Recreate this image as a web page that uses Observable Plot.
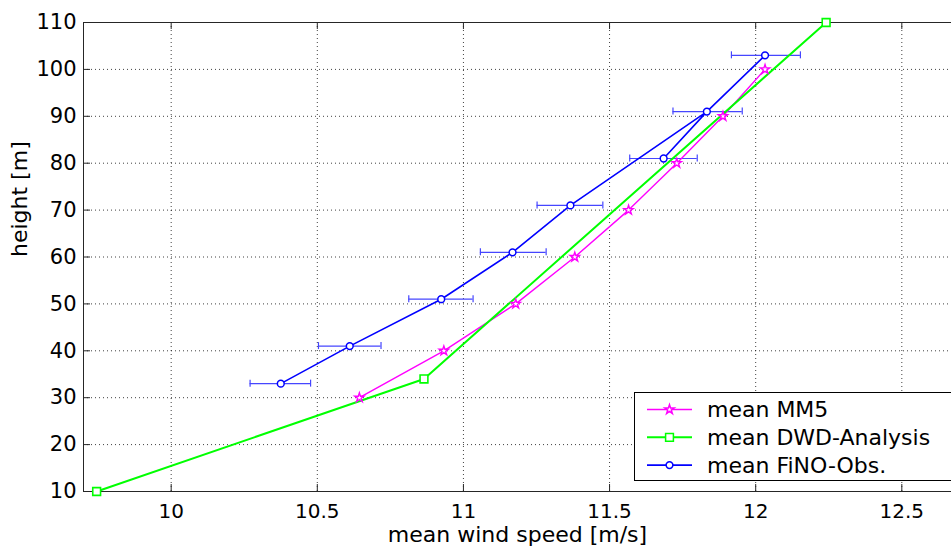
<!DOCTYPE html>
<html><head><meta charset="utf-8">
<script src="https://cdn.jsdelivr.net/npm/d3@7"></script>
<script src="https://cdn.jsdelivr.net/npm/@observablehq/plot@0.6"></script>
<style>
body{margin:0;background:#fff;}
#wrap{position:relative;width:951px;height:554px;overflow:hidden;}
#legend{position:absolute;left:634px;top:392px;width:340px;height:89px;border:1px solid #000;background:#fff;box-sizing:border-box;}
</style></head><body><div id="wrap"></div>
<script>
// ---- data ----
const xTicks = [10, 10.5, 11, 11.5, 12, 12.5];
const yTicks = [10, 20, 30, 40, 50, 60, 70, 80, 90, 100, 110];
const xDomain = [9.7, 12.67];
const yDomain = [10, 110];

const seriesNames = ["mean MM5", "mean DWD-Analysis", "mean FiNO-Obs."];
const seriesColors = ["#ff00ff", "#00ff00", "#0000ff"];

const mm5Height = [30, 40, 50, 60, 70, 80, 90, 100];
const mm5Speed = [10.644, 10.933, 11.179, 11.381, 11.565, 11.730, 11.888, 12.032];

const dwdHeight = [10, 34, 110];
const dwdSpeed = [9.745, 10.865, 12.241];

const finoHeight = [33, 41, 51, 61, 71, 81, 91, 103];
const finoSpeed = [10.375, 10.611, 10.924, 11.168, 11.366, 11.685, 11.833, 12.032];
const finoLow = [10.270, 10.504, 10.813, 11.058, 11.252, 11.569, 11.717, 11.917];
const finoHigh = [10.477, 10.718, 11.033, 11.283, 11.477, 11.800, 11.954, 12.153];
const finoLineOrder = [0, 1, 2, 3, 4, 6, 5, 6, 7];

// ---- tables ----
const mm5 = mm5Height.map((h, i) => ({x: mm5Speed[i], y: h}));
const dwd = dwdHeight.map((h, i) => ({x: dwdSpeed[i], y: h}));
const fino = finoHeight.map((h, i) => ({x: finoSpeed[i], y: h, lo: finoLow[i], hi: finoHigh[i]}));
const finoPath = finoLineOrder.map(i => fino[i]);

const frameColor = "#262626";
const errColor = "#4646ff";
const font = "DejaVu Sans";
const fmt = d => String(d);

const chart = Plot.plot({
  width: 951, height: 554,
  marginLeft: 83, marginTop: 22, marginBottom: 63, marginRight: 0,
  style: {fontFamily: font, fontSize: "21px", color: "#000", background: "#fff", overflow: "visible"},
  x: {domain: xDomain, label: null},
  y: {domain: yDomain, label: null},
  marks: [
    // grid
    Plot.ruleX(xTicks, {x: d => d, stroke: "#000", strokeOpacity: 0.75, strokeDasharray: "1,3"}),
    Plot.ruleY(yTicks, {y: d => d, stroke: "#000", strokeOpacity: 0.75, strokeDasharray: "1,3"}),
    // frame (right edge is cropped in the reference)
    Plot.ruleY([yDomain[0], yDomain[1]], {y: d => d, stroke: frameColor}),
    Plot.ruleX([xDomain[0]], {x: d => d, stroke: frameColor}),
    // inward ticks
    Plot.ruleX(xTicks, {x: d => d, y1: yDomain[0], y2: yDomain[0], insetBottom: 7, stroke: frameColor}),
    Plot.ruleX(xTicks, {x: d => d, y1: yDomain[1], y2: yDomain[1], insetTop: 7, stroke: frameColor}),
    Plot.ruleY(yTicks, {y: d => d, x1: xDomain[0], x2: xDomain[0], insetRight: -7, stroke: frameColor}),
    // tick labels
    Plot.axisX({ticks: xTicks, tickFormat: fmt, tickSize: 0, tickPadding: 12, fontSize: 20, label: null}),
    Plot.axisY({ticks: yTicks, tickFormat: fmt, tickSize: 0, tickPadding: 7, fontSize: 21, label: null}),
    // axis titles
    Plot.text(["mean wind speed [m/s]"], {text: d => d, frameAnchor: "bottom", dy: 50, fontSize: 22}),
    Plot.text(["height [m]"], {text: d => d, frameAnchor: "left", dx: -64, rotate: -90, fontSize: 22}),
    // FiNO error bars
    Plot.ruleY(fino, {y: "y", x1: "lo", x2: "hi", stroke: errColor, strokeWidth: 1.2}),
    Plot.ruleX(fino, {x: "lo", y1: "y", y2: "y", insetTop: -3.5, insetBottom: -3.5, stroke: errColor, strokeWidth: 1.2}),
    Plot.ruleX(fino, {x: "hi", y1: "y", y2: "y", insetTop: -3.5, insetBottom: -3.5, stroke: errColor, strokeWidth: 1.2}),
    // lines
    Plot.line(finoPath, {x: "x", y: "y", stroke: seriesColors[2], strokeWidth: 1.6}),
    Plot.line(mm5, {x: "x", y: "y", stroke: seriesColors[0], strokeWidth: 1.4}),
    Plot.line(dwd, {x: "x", y: "y", stroke: seriesColors[1], strokeWidth: 2}),
    // markers
    Plot.dot(mm5, {x: "x", y: "y", symbol: "star", r: 2.9, stroke: seriesColors[0], fill: "#fff", strokeWidth: 1.4}),
    Plot.dot(dwd, {x: "x", y: "y", symbol: "square", r: 4.4, stroke: seriesColors[1], fill: "#fff", strokeWidth: 1.6}),
    Plot.dot(fino, {x: "x", y: "y", symbol: "circle", r: 3.4, stroke: seriesColors[2], fill: "#fff", strokeWidth: 1.5})
  ]
});

const wrap = document.getElementById("wrap");
wrap.appendChild(chart);

// legend
const legend = document.createElement("div");
legend.id = "legend";
wrap.appendChild(legend);
const lsvg = d3.select(legend).append("svg").attr("width", 340).attr("height", 87)
  .style("position", "absolute").style("left", "0").style("top", "0");
const symbols = [d3.symbolStar, d3.symbolSquare, d3.symbolCircle];
const symSizes = [Math.PI * 2.9 * 2.9, Math.PI * 4.4 * 4.4, Math.PI * 3.4 * 3.4];
seriesNames.forEach((name, i) => {
  const cy = 16.5 + i * 27.8;
  const g = lsvg.append("g");
  g.append("line").attr("x1", 12).attr("x2", 57).attr("y1", cy).attr("y2", cy)
    .attr("stroke", seriesColors[i]).attr("stroke-width", i === 1 ? 2 : 1.6);
  g.append("path").attr("d", d3.symbol(symbols[i], symSizes[i])())
    .attr("transform", `translate(34.5,${cy})`)
    .attr("fill", "#fff").attr("stroke", seriesColors[i]).attr("stroke-width", 1.5);
  g.append("text").attr("x", 72).attr("y", cy).attr("dy", "0.36em")
    .attr("font-family", font).attr("font-size", 22).attr("fill", "#000").text(name);
});
</script>
</body></html>
